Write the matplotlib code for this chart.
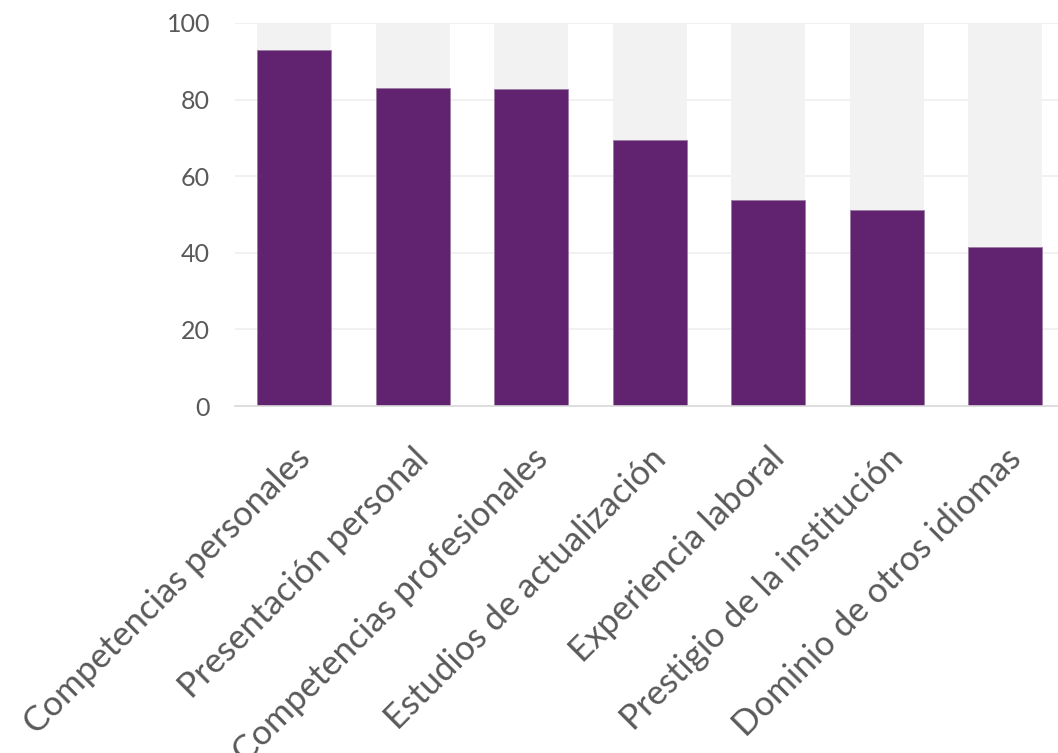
import numpy as np
import matplotlib
matplotlib.use('Agg')
import matplotlib.pyplot as plt

# data
categorias = ['Competencias personales', 'Presentación personal',
              'Competencias profesionales', 'Estudios de actualización',
              'Experiencia laboral', 'Prestigio de la institución',
              'Dominio de otros idiomas']
valores = [92.9, 83.0, 82.8, 69.4, 53.7, 51.2, 41.4]
fondo = [100] * len(categorias)
y_ticks = [0, 20, 40, 60, 80, 100]

plt.rcParams['font.family'] = ['Lato', 'DejaVu Sans']

fig = plt.figure(figsize=(10.58, 7.53), dpi=100)
ax = fig.add_axes([235 / 1058, 347 / 753, 829.5 / 1058, 383 / 753])

x = np.arange(len(categorias))

# gray background bars, then the purple values
ax.bar(x, fondo, width=0.625, color='#F2F2F2', zorder=1)
ax.bar(x, valores, width=0.625, color='#61226F', edgecolor='#9C7BA6',
       linewidth=0.6, zorder=2)

ax.set_xlim(-0.5, len(categorias) - 0.5)
ax.set_ylim(0, 100)
ax.set_yticks(y_ticks)
ax.yaxis.grid(True, color='#EFEFEF', linewidth=1.2, zorder=0)
ax.set_axisbelow(True)

for s in ['top', 'right', 'left']:
    ax.spines[s].set_visible(False)
ax.spines['bottom'].set_color('#D9D9D9')
ax.spines['bottom'].set_linewidth(1.2)
ax.spines['bottom'].set_zorder(3)

ax.tick_params(axis='both', length=0, colors='#595959', labelsize=18)
ax.tick_params(axis='y', pad=18)

ax.set_xticks(x)
ax.set_xticklabels(categorias, rotation=45, ha='right', rotation_mode='anchor',
                   fontsize=25)
ax.tick_params(axis='x', pad=26)

fig.savefig('out.png', dpi=100)
